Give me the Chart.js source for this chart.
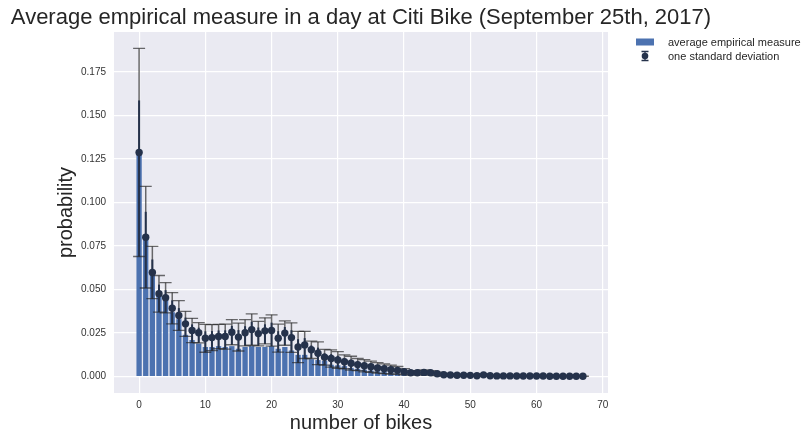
<!DOCTYPE html>
<html>
<head>
<meta charset="utf-8">
<script src="https://cdn.jsdelivr.net/npm/chart.js@4.4.1/dist/chart.umd.min.js"></script>
<style>
	body { margin: 0; background: #ffffff; }
	#wrap { width: 803px; height: 439px; position: relative; }
</style>
</head>
<body>
<div id="wrap"><canvas id="citiChart"></canvas></div>
<script>
/* data  ************************************************** */
var numBikes = [];
for (var n = 0; n <= 67; n++) numBikes.push(n);

// bar heights (average empirical measure)
var barValues = [
	0.1285, 0.0790, 0.0590, 0.0470, 0.0440, 0.0370, 0.0330, 0.0240, 0.0210, 0.0190,
	0.0170, 0.0170, 0.0175, 0.0170, 0.0175, 0.0160, 0.0170, 0.0175, 0.0170, 0.0170,
	0.0175, 0.0160, 0.0170, 0.0150, 0.0125, 0.0125, 0.0100, 0.0095, 0.0090, 0.0068,
	0.0065, 0.0060, 0.0050, 0.0045, 0.0040, 0.0035, 0.0030, 0.0026, 0.0022, 0.0018,
	0.0012, 0.0010, 0.0010, 0.0012, 0.0010, 0.0007, 0.0005, 0.0004, 0.0004, 0.0004,
	0.0003, 0.0003, 0.0005, 0.0003, 0.0002, 0.0002, 0.0002, 0.0002, 0.0002, 0.0002,
	0.0001, 0.0001, 0.0001, 0.0001, 0.0001, 0.0001, 0.0001, 0.0001
];
// dots of the error bar series
var meanValues = [
	0.1288, 0.0801, 0.0598, 0.0476, 0.0453, 0.0393, 0.0351, 0.0303, 0.0265, 0.0252,
	0.0220, 0.0224, 0.0230, 0.0230, 0.0255, 0.0227, 0.0252, 0.0270, 0.0247, 0.0263,
	0.0265, 0.0221, 0.0250, 0.0224, 0.0170, 0.0182, 0.0154, 0.0134, 0.0111, 0.0104,
	0.0096, 0.0085, 0.0077, 0.0069, 0.0062, 0.0057, 0.0050, 0.0045, 0.0040, 0.0036,
	0.0028, 0.0022, 0.0022, 0.0024, 0.0022, 0.0016, 0.0011, 0.0009, 0.0008, 0.0008,
	0.0007, 0.0005, 0.0010, 0.0005, 0.0004, 0.0004, 0.0004, 0.0003, 0.0003, 0.0003,
	0.0003, 0.0003, 0.0002, 0.0002, 0.0002, 0.0002, 0.0002, 0.0002
];
// one standard deviation
var stdValues = [
	0.0598, 0.0292, 0.0150, 0.0105, 0.0087, 0.0090, 0.0085, 0.0072, 0.0070, 0.0058,
	0.0080, 0.0075, 0.0070, 0.0072, 0.0072, 0.0080, 0.0075, 0.0090, 0.0070, 0.0075,
	0.0090, 0.0080, 0.0070, 0.0085, 0.0090, 0.0078, 0.0050, 0.0065, 0.0045, 0.0050,
	0.0048, 0.0040, 0.0040, 0.0035, 0.0035, 0.0032, 0.0030, 0.0028, 0.0026, 0.0022,
	0.0018, 0.0012, 0.0012, 0.0014, 0.0012, 0.0010, 0.0008, 0.0006, 0.0005, 0.0005,
	0.0004, 0.0004, 0.0006, 0.0004, 0.0003, 0.0003, 0.0003, 0.0002, 0.0002, 0.0002,
	0.0002, 0.0002, 0.0001, 0.0001, 0.0001, 0.0001, 0.0001, 0.0001
];

var xTicks = [0, 10, 20, 30, 40, 50, 60, 70];
var yTicks = [0, 0.025, 0.05, 0.075, 0.1, 0.125, 0.15, 0.175];
var xRange = [-3.79, 70.79];
var yRange = [-0.00943, 0.19803];

var titleText = 'Average empirical measure in a day at Citi Bike (September 25th, 2017)';
var barLabel = 'average empirical measure';
var errLabel = 'one standard deviation';

/* colours  ************************************************** */
var barColor = '#4C72B0';
var dotColor = '#25324b';
var errColor = 'rgba(40,40,40,0.68)';
var textColor = '#262626';
var FONT = '"Liberation Sans", Arial, sans-serif';

/* plugins  ************************************************** */
var bgPlugin = {
	id: 'bgPlugin',
	beforeDraw: function(chart){
		var a = chart.chartArea, ctx = chart.ctx;
		ctx.save();
		ctx.fillStyle = '#EAEAF2';
		ctx.fillRect(a.left, a.top, a.right - a.left, a.bottom - a.top);
		ctx.restore();
	}
};

// error bars are drawn right after the bars, before the dots
var errPlugin = {
	id: 'errPlugin',
	afterDatasetDraw: function(chart, args){
		if (args.index !== 0) return;
		var ctx = chart.ctx, xs = chart.scales.x, ys = chart.scales.y;
		ctx.save();
		ctx.beginPath();
		ctx.rect(chart.chartArea.left, chart.chartArea.top, chart.chartArea.right - chart.chartArea.left, chart.chartArea.bottom - chart.chartArea.top);
		ctx.clip();
		for (var i = 0; i < numBikes.length; i++) {
			var px = xs.getPixelForValue(numBikes[i]);
			var hi = ys.getPixelForValue(meanValues[i] + stdValues[i]);
			var lo = ys.getPixelForValue(meanValues[i] - stdValues[i]);
			var mid = ys.getPixelForValue(meanValues[i] + stdValues[i] / 2);
			// grey line
			ctx.strokeStyle = errColor;
			ctx.lineWidth = 1.5;
			ctx.beginPath();
			ctx.moveTo(px, hi); ctx.lineTo(px, lo);
			ctx.stroke();
			// dark inner part
			ctx.strokeStyle = dotColor;
			ctx.lineWidth = 2;
			ctx.beginPath();
			ctx.moveTo(px, mid); ctx.lineTo(px, lo);
			ctx.stroke();
			// caps
			ctx.strokeStyle = errColor;
			ctx.lineWidth = 1.3;
			ctx.beginPath();
			ctx.moveTo(px - 6, hi); ctx.lineTo(px + 6, hi);
			ctx.moveTo(px - 6, lo); ctx.lineTo(px + 6, lo);
			ctx.stroke();
		}
		ctx.restore();
	}
};

// title centred over the axes, legend outside on the right
var textPlugin = {
	id: 'textPlugin',
	afterDraw: function(chart){
		var ctx = chart.ctx, a = chart.chartArea;
		ctx.save();
		ctx.fillStyle = textColor;
		ctx.font = '22px ' + FONT;
		ctx.textAlign = 'center';
		ctx.textBaseline = 'middle';
		ctx.fillText(titleText, (a.left + a.right) / 2, 18);

		// legend
		ctx.fillStyle = barColor;
		ctx.fillRect(636, 38.5, 18, 7);
		ctx.strokeStyle = dotColor;
		ctx.lineWidth = 1.3;
		ctx.beginPath();
		ctx.moveTo(645, 51.5); ctx.lineTo(645, 60.5);
		ctx.moveTo(641.5, 51.5); ctx.lineTo(648.5, 51.5);
		ctx.moveTo(641.5, 60.5); ctx.lineTo(648.5, 60.5);
		ctx.stroke();
		ctx.fillStyle = dotColor;
		ctx.beginPath();
		ctx.arc(645, 56, 3.3, 0, Math.PI * 2);
		ctx.fill();

		ctx.fillStyle = textColor;
		ctx.font = '11px ' + FONT;
		ctx.textAlign = 'left';
		ctx.fillText(barLabel, 668, 42.5);
		ctx.fillText(errLabel, 668, 56.5);
		ctx.restore();
	}
};

/* chart  ************************************************** */
var ctx = document.getElementById('citiChart').getContext('2d');
var citiChart = new Chart(ctx, {
	type: 'bar',
	data: {
		datasets: [
			{
				label: barLabel,
				data: numBikes.map(function(x, i){ return {x: x, y: barValues[i]}; }),
				backgroundColor: barColor,
				borderWidth: 0,
				categoryPercentage: 1.0,
				barPercentage: 0.8,
				order: 2
			},
			{
				type: 'line',
				label: errLabel,
				data: numBikes.map(function(x, i){ return {x: x, y: meanValues[i]}; }),
				showLine: false,
				pointRadius: 3.7,
				pointBackgroundColor: dotColor,
				pointBorderColor: dotColor,
				pointBorderWidth: 0,
				order: 0
			}
		]
	},
	options: {
		responsive: true,
		maintainAspectRatio: false,
		animation: false,
		layout: { padding: { left: 0, right: 195, top: 32, bottom: 0 } },
		plugins: {
			legend: { display: false },
			title: { display: false },
			tooltip: { enabled: false }
		},
		scales: {
			x: {
				type: 'linear',
				min: xRange[0],
				max: xRange[1],
				offset: false,
				grid: { color: '#ffffff', lineWidth: 1.2, drawTicks: false, offset: false },
				border: { display: false },
				afterBuildTicks: function(scale){ scale.ticks = xTicks.map(function(v){ return {value: v}; }); },
				afterFit: function(scale){ scale.height = 46; },
				ticks: {
					padding: 6,
					maxRotation: 0,
					color: '#333333',
					font: { family: FONT, size: 10 },
					callback: function(v){ return String(v); }
				},
				title: {
					display: true,
					text: 'number of bikes',
					color: textColor,
					font: { family: FONT, size: 20 },
					padding: { top: 0, bottom: 4 }
				}
			},
			y: {
				min: yRange[0],
				max: yRange[1],
				grid: { color: '#ffffff', lineWidth: 1.2, drawTicks: false },
				border: { display: false },
				afterBuildTicks: function(scale){ scale.ticks = yTicks.map(function(v){ return {value: v}; }); },
				afterFit: function(scale){ scale.width = 114; },
				ticks: {
					padding: 8,
					color: '#333333',
					font: { family: FONT, size: 10 },
					callback: function(v){ return v.toFixed(3); }
				},
				title: {
					display: true,
					text: 'probability',
					color: textColor,
					font: { family: FONT, size: 20 },
					padding: { top: 54, bottom: 0 }
				}
			}
		}
	},
	plugins: [bgPlugin, errPlugin, textPlugin]
});
</script>
</body>
</html>
